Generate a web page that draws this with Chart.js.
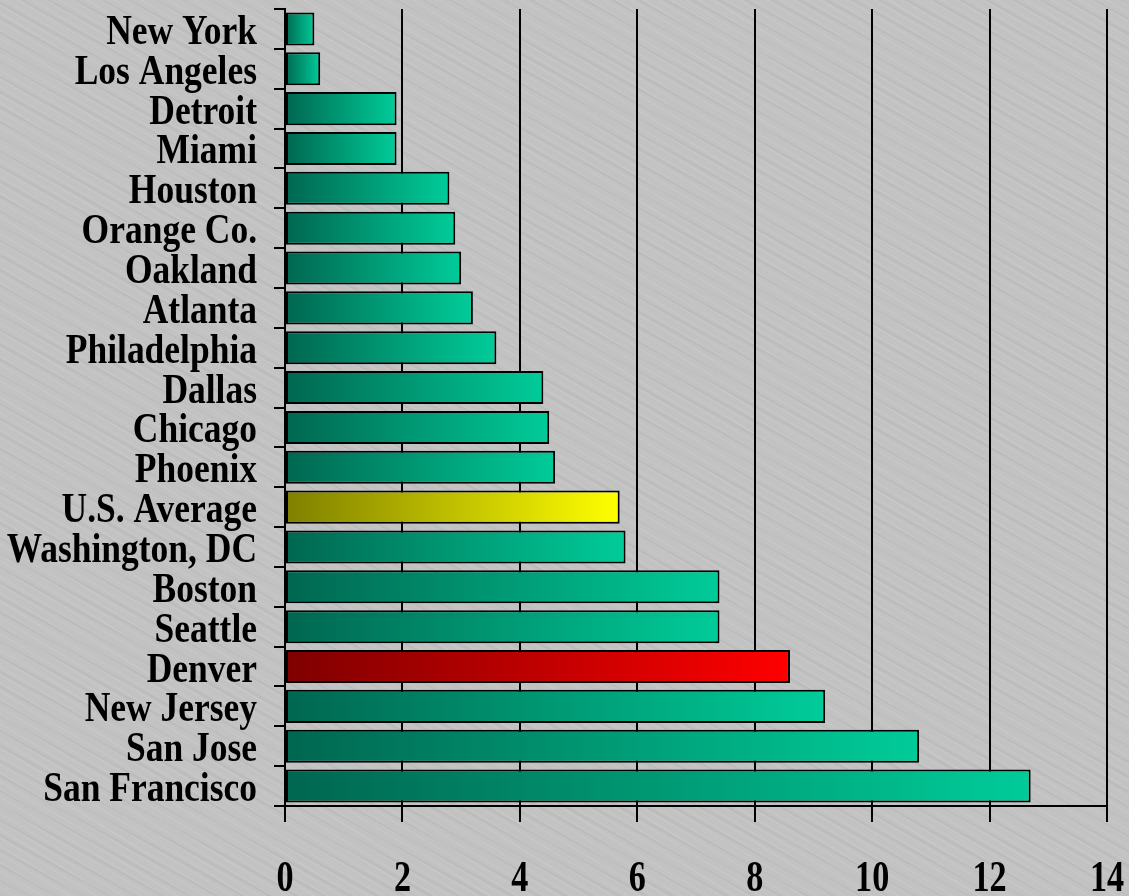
<!DOCTYPE html>
<html>
<head>
<meta charset="utf-8">
<title>Cities</title>
<script src="https://cdn.jsdelivr.net/npm/chart.js@4/dist/chart.umd.min.js"></script>
<style>
  html, body { margin: 0; padding: 0; }
  body {
    width: 1129px; height: 896px; overflow: hidden;
    background-color: #c2c2c2;
    background-image:
      repeating-linear-gradient(31deg, rgba(255,255,255,0.07) 0px, rgba(255,255,255,0.07) 1px, rgba(0,0,0,0) 2px, rgba(0,0,0,0) 7px),
      repeating-linear-gradient(29deg, rgba(0,0,0,0.03) 0px, rgba(0,0,0,0.03) 2px, rgba(0,0,0,0) 3px, rgba(0,0,0,0) 13px),
      repeating-linear-gradient(33deg, rgba(255,255,255,0.04) 0px, rgba(255,255,255,0.04) 1px, rgba(0,0,0,0) 2px, rgba(0,0,0,0) 19px);
  }
  #wrap { position: absolute; left: 0; top: 0; width: 1129px; height: 896px; }
</style>
</head>
<body>
<div id="wrap"><canvas id="chart" width="1129" height="896"></canvas></div>
<script>
// Cities, top to bottom
const cities = [
  'New York', 'Los Angeles', 'Detroit', 'Miami', 'Houston', 'Orange Co.',
  'Oakland', 'Atlanta', 'Philadelphia', 'Dallas', 'Chicago', 'Phoenix',
  'U.S. Average', 'Washington, DC', 'Boston', 'Seattle', 'Denver',
  'New Jersey', 'San Jose', 'San Francisco'
];

// Value for each city
const values = [
  0.5, 0.6, 1.9, 1.9, 2.8, 2.9,
  3.0, 3.2, 3.6, 4.4, 4.5, 4.6,
  5.7, 5.8, 7.4, 7.4, 8.6,
  9.2, 10.8, 12.7
];

// Horizontal axis ticks
const xTicks = [0, 2, 4, 6, 8, 10, 12, 14];

// Bar gradients (dark end at zero, bright end at the bar tip)
const teal = ['#006650', '#00cc99'];
const highlight = {
  'U.S. Average': ['#7f7f00', '#ffff00'],
  'Denver': ['#7f0000', '#ff0000']
};

const SERIF = '"Liberation Serif", "Times New Roman", "DejaVu Serif", serif';

function barFill(ctx) {
  const chart = ctx.chart;
  const pair = highlight[cities[ctx.dataIndex]] || teal;
  if (ctx.type !== 'data' || !chart.chartArea || !chart.scales.x) return pair[1];
  const xs = chart.scales.x;
  const x0 = xs.getPixelForValue(0);
  const x1 = xs.getPixelForValue(ctx.raw);
  const g = chart.ctx.createLinearGradient(x0, 0, Math.max(x1, x0 + 1), 0);
  g.addColorStop(0, pair[0]);
  g.addColorStop(1, pair[1]);
  return g;
}

// Condensed bold serif labels for both axes
const condensedLabels = {
  id: 'condensedLabels',
  afterDraw(chart) {
    const c = chart.ctx;
    const ys = chart.scales.y;
    const xs = chart.scales.x;
    c.save();
    c.fillStyle = '#000';

    // category names
    c.font = 'bold 43px ' + SERIF;
    c.textAlign = 'right';
    c.textBaseline = 'alphabetic';
    const sy = 0.825;
    cities.forEach((name, i) => {
      const y = ys.getPixelForValue(i) + 15;
      c.save();
      c.translate(257, y);
      c.scale(sy, 1);
      c.fillText(name, 0, 0);
      c.restore();
    });

    // value ticks
    c.font = 'bold 45px ' + SERIF;
    c.textAlign = 'center';
    const sx = 0.76;
    xTicks.forEach(v => {
      const x = xs.getPixelForValue(v);
      c.save();
      c.translate(x, 891);
      c.scale(sx, 1);
      c.fillText(String(v), 0, 0);
      c.restore();
    });
    c.restore();
  }
};

new Chart(document.getElementById('chart'), {
  type: 'bar',
  data: {
    labels: cities,
    datasets: [{
      data: values,
      backgroundColor: barFill,
      borderColor: '#000',
      borderWidth: 2,
      borderSkipped: false,
      barPercentage: 0.83,
      categoryPercentage: 1.0
    }]
  },
  options: {
    indexAxis: 'y',
    responsive: false,
    animation: false,
    events: [],
    layout: { padding: { top: 7, right: 22, left: 0, bottom: 0 } },
    plugins: {
      legend: { display: false },
      tooltip: { enabled: false },
      title: { display: false }
    },
    scales: {
      x: {
        type: 'linear',
        min: 0,
        max: 14,
        afterBuildTicks(scale) { scale.ticks = xTicks.map(v => ({ value: v })); },
        afterFit(scale) { scale.height = 90; },
        ticks: { display: true, color: 'rgba(0,0,0,0)', font: { size: 10 } },
        grid: {
          color: '#000',
          lineWidth: 2,
          drawTicks: true,
          tickLength: 16,
          tickColor: '#000'
        },
        border: { display: true, color: '#000', width: 2 }
      },
      y: {
        type: 'category',
        afterFit(scale) { scale.width = 285; },
        ticks: { display: true, color: 'rgba(0,0,0,0)', font: { size: 10 } },
        grid: {
          offset: true,
          drawOnChartArea: false,
          drawTicks: true,
          tickLength: 11,
          color: '#000',
          lineWidth: 2
        },
        border: { display: true, color: '#000', width: 2 }
      }
    }
  },
  plugins: [condensedLabels]
});
</script>
</body>
</html>
